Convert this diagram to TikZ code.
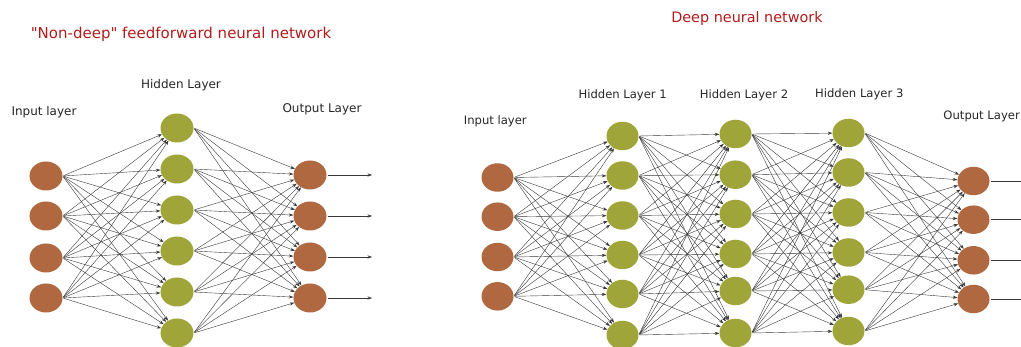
\documentclass[tikz,border=0pt]{standalone}
\usepackage{fontspec}
\setmainfont{DejaVu Sans}[Ligatures=TeXOff]
\usetikzlibrary{shapes.geometric, arrows.meta, positioning}
\definecolor{neuronBrown}{RGB}{176, 104, 64}
\definecolor{neuronOlive}{RGB}{160, 165, 58}
\definecolor{titleRed}{RGB}{176, 28, 28}
\definecolor{linkGray}{RGB}{55, 55, 55}

\begin{document}
\begin{tikzpicture}[
    x=1pt, y=-1pt,
    % Neuron styles
    neuron/.style={
        ellipse,
        minimum width=33pt,
        minimum height=29pt,
        inner sep=0pt,
        fill=#1
    },
    dneuron/.style={
        neuron=#1,
        minimum width=32pt,
        minimum height=28.5pt
    },
    % Connection style
    link/.style={
        -{Stealth[length=4.5pt, width=3.2pt]},
        draw=linkGray,
        line width=0.4pt,
        shorten <=1pt
    },
    % Text styles
    layerlabel/.style={
        font=\fontsize{12}{14}\selectfont,
        text=black!85,
        inner sep=0pt
    },
    dlayerlabel/.style={
        layerlabel,
        font=\fontsize{11.6}{14}\selectfont
    },
    nettitle/.style={
        font=\fontsize{15}{18}\selectfont,
        text=titleRed,
        inner sep=0pt
    }
]
\useasboundingbox (0,0) rectangle (1021,347);
\clip (0,0) rectangle (1021,347);

% ============================================
% LEFT: "NON-DEEP" NETWORK
% ============================================
\node[nettitle] (titleA) at (181,34) {"Non-deep" feedforward neural network};

% Input layer
\foreach \y [count=\i] in {176,216,258,298}
    \node[neuron=neuronBrown] (inA\i) at (46,\y) {};

% Hidden layer
\foreach \y [count=\i] in {128,169,210,251,292,333}
    \node[neuron=neuronOlive] (hidA\i) at (177,\y) {};

% Output layer
\foreach \y [count=\i] in {175,216,257,298} {
    \node[neuron=neuronBrown] (outA\i) at (310,\y) {};
    \coordinate (endA\i) at (372,\y);
}

% Labels
\node[layerlabel] (inAlabel) at (44,112) {Input layer};
\node[layerlabel] (hidAlabel) at (181,85) {Hidden Layer};
\node[layerlabel] (outAlabel) at (322,109) {Output Layer};

% Connections
\foreach \i in {1,...,4}
    \foreach \j in {1,...,6}
        \draw[link] (inA\i.east) -- (hidA\j);
\foreach \i in {1,...,6}
    \foreach \j in {1,...,4}
        \draw[link] (hidA\i.east) -- (outA\j);
\foreach \i in {1,...,4}
    \draw[link] (outA\i.east) -- (endA\i);

% ============================================
% RIGHT: DEEP NETWORK
% ============================================
\node[nettitle, font=\fontsize{14.4}{17}\selectfont] (titleB) at (747,19) {Deep neural network};

% Input layer
\foreach \y [count=\i] in {177.5,216.7,257,296.3}
    \node[dneuron=neuronBrown] (inB\i) at (497.5,\y) {};

% Hidden layers 1-3
\foreach \y [count=\i] in {136,175.5,215.5,255,294,335}
    \node[dneuron=neuronOlive] (hidBa\i) at (622.5,\y) {};
\foreach \y [count=\i] in {134,174.7,214,254,291,333}
    \node[dneuron=neuronOlive] (hidBb\i) at (735.5,\y) {};
\foreach \y [count=\i] in {133,172.5,212.5,252.5,289.7,331}
    \node[dneuron=neuronOlive] (hidBc\i) at (848.5,\y) {};

% Output layer
\foreach \y [count=\i] in {181,219.7,260.3,299} {
    \node[dneuron=neuronBrown] (outB\i) at (973.5,\y) {};
    \coordinate (endB\i) at (1040,\y);
}

% Labels
\node[dlayerlabel] (inBlabel) at (495.3,121.7) {Input layer};
\node[dlayerlabel] (hidBalabel) at (622.7,95) {Hidden Layer 1};
\node[dlayerlabel] (hidBblabel) at (744,95) {Hidden Layer 2};
\node[dlayerlabel] (hidBclabel) at (859.3,94) {Hidden Layer 3};
\node[dlayerlabel, anchor=east] (outBlabel) at (1020,116) {Output Layer};

% Connections
\foreach \i in {1,...,4}
    \foreach \j in {1,...,6}
        \draw[link] (inB\i.east) -- (hidBa\j);
\foreach \i in {1,...,6}
    \foreach \j in {1,...,6} {
        \draw[link] (hidBa\i.east) -- (hidBb\j);
        \draw[link] (hidBb\i.east) -- (hidBc\j);
    }
\foreach \i in {1,...,6}
    \foreach \j in {1,...,4}
        \draw[link] (hidBc\i.east) -- (outB\j);
\foreach \i in {1,...,4}
    \draw[link, -] (outB\i.east) -- (endB\i);

\end{tikzpicture}
\end{document}
